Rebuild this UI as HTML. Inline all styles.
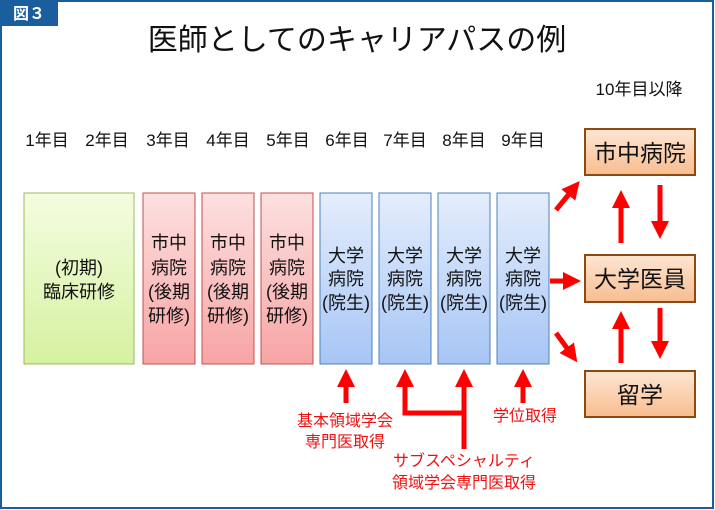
<!DOCTYPE html>
<html><head><meta charset="utf-8"><style>
html,body{margin:0;padding:0;background:#fff}
svg{display:block}
text{font-family:"Liberation Sans","Noto Sans CJK JP",sans-serif}
</style></head><body>
<svg width="715" height="510" viewBox="0 0 715 510" xmlns="http://www.w3.org/2000/svg">
<defs>
<linearGradient id="g" x1="0" y1="0" x2="0" y2="1"><stop offset="0" stop-color="#f4fde0"/><stop offset="1" stop-color="#d5f1a0"/></linearGradient>
<linearGradient id="p" x1="0" y1="0" x2="0" y2="1"><stop offset="0" stop-color="#fde0e0"/><stop offset="1" stop-color="#f7a4a4"/></linearGradient>
<linearGradient id="b" x1="0" y1="0" x2="0" y2="1"><stop offset="0" stop-color="#e4eefc"/><stop offset="1" stop-color="#a7c5f5"/></linearGradient>
<linearGradient id="o" x1="0" y1="0" x2="0" y2="1"><stop offset="0" stop-color="#fde6d3"/><stop offset="1" stop-color="#f8bd90"/></linearGradient>
<marker id="ah" viewBox="0 0 10 10" refX="5" refY="5" markerWidth="3.6" markerHeight="3.6" orient="auto"><path d="M0,0 L10,5 L0,10 z" fill="#ff0000"/></marker>
</defs>
<rect x="1" y="1" width="712" height="507" fill="#fff" stroke="#1a5e9e" stroke-width="2"/>
<rect x="0" y="0" width="58" height="26" fill="#1a5e9e"/>
<text x="29" y="19" font-size="16" font-weight="bold" fill="#fff" text-anchor="middle">図３</text>
<text x="357" y="50" font-size="30" text-anchor="middle" fill="#111">医師としてのキャリアパスの例</text>
<g font-size="17" fill="#111" text-anchor="middle">
<text x="47" y="146">1年目</text><text x="107" y="146">2年目</text><text x="168" y="146">3年目</text><text x="228" y="146">4年目</text><text x="288" y="146">5年目</text><text x="347" y="146">6年目</text><text x="405" y="146">7年目</text><text x="464" y="146">8年目</text><text x="523" y="146">9年目</text>
<text x="639" y="95">10年目以降</text>
</g>
<rect x="24" y="193" width="110" height="171" fill="url(#g)" stroke="#9bbb59"/>
<g font-size="18" fill="#111" text-anchor="middle">
<text x="79" y="274">(初期)</text><text x="79" y="298">臨床研修</text>
</g>
<g stroke="#c0504d" fill="url(#p)">
<rect x="143" y="193" width="52" height="171"/><rect x="202" y="193" width="52" height="171"/><rect x="261" y="193" width="52" height="171"/>
</g>
<g font-size="18" fill="#111" text-anchor="middle">
<text x="169" y="249">市中</text><text x="169" y="274">病院</text><text x="169" y="298">(後期</text><text x="169" y="322">研修)</text>
<text x="228" y="249">市中</text><text x="228" y="274">病院</text><text x="228" y="298">(後期</text><text x="228" y="322">研修)</text>
<text x="287" y="249">市中</text><text x="287" y="274">病院</text><text x="287" y="298">(後期</text><text x="287" y="322">研修)</text>
</g>
<g stroke="#4f81bd" fill="url(#b)">
<rect x="320" y="193" width="52" height="171"/><rect x="379" y="193" width="52" height="171"/><rect x="438" y="193" width="52" height="171"/><rect x="497" y="193" width="52" height="171"/>
</g>
<g font-size="18" fill="#111" text-anchor="middle">
<text x="346" y="262">大学</text><text x="346" y="285">病院</text><text x="346" y="309">(院生)</text>
<text x="405" y="262">大学</text><text x="405" y="285">病院</text><text x="405" y="309">(院生)</text>
<text x="464" y="262">大学</text><text x="464" y="285">病院</text><text x="464" y="309">(院生)</text>
<text x="523" y="262">大学</text><text x="523" y="285">病院</text><text x="523" y="309">(院生)</text>
</g>
<g stroke="#8a4a12" stroke-width="2" fill="url(#o)">
<rect x="585" y="129" width="110" height="46"/><rect x="585" y="255" width="110" height="47"/><rect x="585" y="371" width="110" height="46"/>
</g>
<g font-size="23" fill="#111" text-anchor="middle">
<text x="640" y="161">市中病院</text><text x="640" y="287">大学医員</text><text x="640" y="403">留学</text>
</g>
<g stroke="#ff0000" stroke-width="5" fill="none" marker-end="url(#ah)">
<line x1="346" y1="403" x2="346" y2="378"/>
<line x1="523" y1="403" x2="523" y2="378"/>
<polyline points="464,449 464,413 405,413 405,378" marker-end="none"/>
<line x1="405" y1="392" x2="405" y2="378"/>
<line x1="464" y1="413" x2="464" y2="378"/>
<line x1="556" y1="210" x2="574" y2="188"/>
<line x1="550" y1="281" x2="572" y2="281"/>
<line x1="556" y1="333" x2="572" y2="355"/>
<line x1="621" y1="243" x2="621" y2="199"/>
<line x1="660" y1="185" x2="660" y2="230"/>
<line x1="621" y1="363" x2="621" y2="320"/>
<line x1="660" y1="308" x2="660" y2="350"/>
</g>
<g font-size="16" fill="#ee1111" text-anchor="middle">
<text x="345" y="426">基本領域学会</text><text x="345" y="447">専門医取得</text>
<text x="525" y="421">学位取得</text>
<text x="464" y="466">サブスペシャルティ</text><text x="464" y="488">領域学会専門医取得</text>
</g>
</svg>
</body></html>
